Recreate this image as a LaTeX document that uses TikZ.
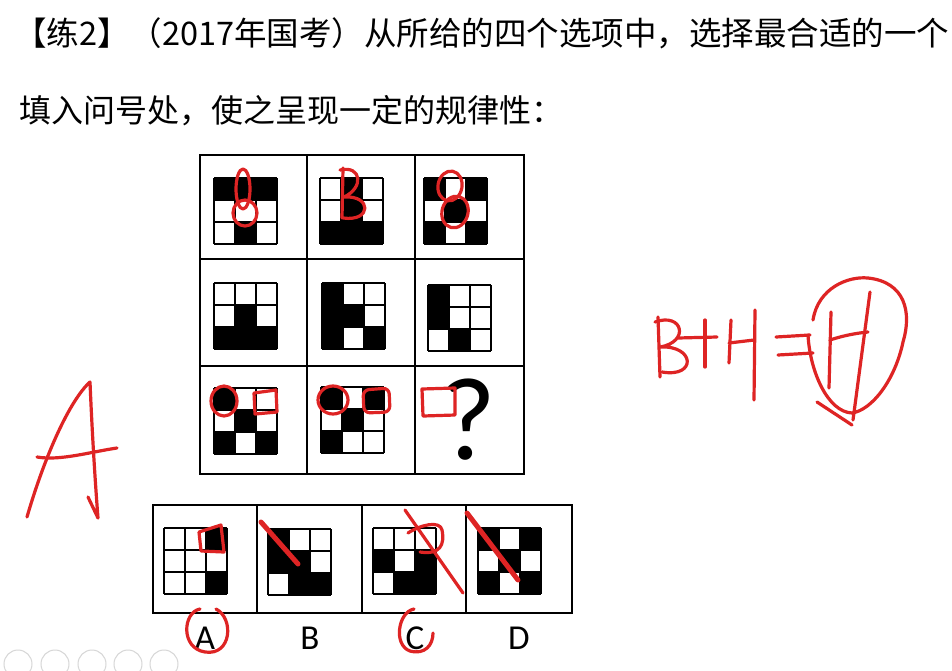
\documentclass[tikz,border=0pt]{standalone}
\usepackage{fontspec}
\setmainfont{Carlito}
\newfontfamily\cjk{Noto Sans CJK SC}
\definecolor{penred}{RGB}{222,36,36}
\definecolor{uigray}{RGB}{215,215,215}
\tikzset{
  frame/.style={draw=black, line width=2.2pt},
  pen/.style={draw=penred, line width=3.2pt, line cap=round, line join=round},
  thickpen/.style={draw=penred, line width=5pt, line cap=round},
  uibtn/.style={draw=uigray, line width=1pt, circle, minimum size=28pt, inner sep=0pt},
  lbl/.style={font=\fontsize{35}{35}\selectfont, inner sep=0pt}
}
\newcommand\mygrid[3]{%
  \begin{scope}[shift={(#1,#2)}]
    \foreach \v [count=\i from 0] in {#3} {
      \pgfmathtruncatemacro\rr{div(\i,3)}
      \pgfmathtruncatemacro\cc{mod(\i,3)}
      \ifnum\v=1 \fill (\cc*21,\rr*22) rectangle ++(21,22);\fi
    }
    \foreach \k in {0,1,2,3} {
      \draw[line width=1.7pt] (\k*21,0) -- (\k*21,66);
      \draw[line width=1.7pt] (0,\k*22) -- (63,\k*22);
    }
  \end{scope}}
\begin{document}
\begin{tikzpicture}[x=1pt,y=-1pt]
\useasboundingbox (0,0) rectangle (952,670);
\fill[white] (0,0) rectangle (952,670);

% title text
\node[anchor=west, inner sep=0pt, font=\cjk\fontsize{32.5}{32}\selectfont] (t1) at (14,33)
  {【练2】（2017年国考）从所给的四个选项中，选择最合适的一个};
\node[anchor=west, inner sep=0pt, font=\cjk\fontsize{32}{32}\selectfont] (t2) at (19,111)
  {填入问号处，使之呈现一定的规律性：};

% main 3x3 frame
\draw[frame] (200,155) rectangle (524,474);
\draw[frame] (307,155) -- (307,474);
\draw[frame] (415,155) -- (415,474);
\draw[frame] (200,259) -- (524,259);
\draw[frame] (200,366) -- (524,366);

\mygrid{214}{178}{1,1,1,0,0,0,0,1,0}
\mygrid{320}{178}{0,1,0,0,1,0,1,1,1}
\mygrid{424}{178}{1,0,1,0,1,0,1,0,1}
\mygrid{214}{283}{0,0,0,0,1,0,1,1,1}
\mygrid{322}{283}{1,0,0,1,1,0,1,0,1}
\mygrid{428}{285}{1,0,0,1,0,0,0,1,0}
\mygrid{214}{388}{1,0,0,0,1,0,1,0,1}
\mygrid{321}{387}{1,0,1,0,1,0,1,0,0}
\node[inner sep=0pt, font=\fontsize{118}{118}\selectfont] (q) at (469,420) {?};

% options frame
\draw[frame] (153,505) rectangle (572,613);
\draw[frame] (257,505) -- (257,613);
\draw[frame] (362,505) -- (362,613);
\draw[frame] (466,505) -- (466,613);
\mygrid{164}{528}{0,0,1,0,0,0,0,0,1}
\mygrid{268}{529}{1,0,0,1,1,0,0,1,1}
\mygrid{373}{528}{0,0,0,1,0,1,0,1,1}
\mygrid{478}{528}{1,0,1,0,1,0,1,0,1}

\node[lbl] (la) at (205,638) {A};
\node[lbl] (lb) at (310,638) {B};
\node[lbl] (lc) at (415,638) {C};
\node[lbl] (ld) at (519,638) {D};

% ---- red annotations ----
% row 1
\draw[pen] (243,189) ellipse (7 and 20);
\draw[pen] (245,213) ellipse (12 and 13);
\draw[pen] (343,168) -- (342,218);
\draw[pen] (340,170) .. controls (362,165) and (364,188) .. (344,197)
  .. controls (372,195) and (372,222) .. (343,218);
\draw[pen, rotate around={-10:(450,186)}] (450,186) ellipse (12 and 15);
\draw[pen, rotate around={-15:(455,212)}] (455,212) ellipse (13 and 16);
% row 3
\draw[pen] (224,401) ellipse (13 and 15);
\draw[pen] (254,393) -- (276,390) -- (277,412) -- (255,414) -- (254,393);
\draw[pen] (333,400) ellipse (15 and 14);
\draw[pen, rounded corners=6pt] (363,390) -- (389,388) -- (390,412) -- (364,413) -- cycle;
\draw[pen] (422,389) -- (455,388) -- (455,415) -- (423,416) -- cycle;
% options
\draw[pen] (199,532) -- (221,525) -- (224,552) -- (201,551) -- (199,532);
\draw[thickpen] (261,522) -- (298,564);
\draw[pen] (405,510) -- (463,593);
\draw[pen] (408,533) .. controls (420,525) and (440,520) .. (442,530)
  .. controls (445,545) and (440,555) .. (420,552);
\draw[thickpen] (467,513) -- (518,580);
\draw[pen] (200,609) .. controls (183,612) and (180,648) .. (205,652)
  .. controls (232,656) and (234,618) .. (216,609);
\draw[pen] (414,609) .. controls (398,612) and (393,645) .. (410,651)
  .. controls (425,655) and (433,645) .. (433,633);
% big A
\draw[pen] (27,517) .. controls (45,455) and (70,400) .. (90,382)
  .. controls (92,430) and (95,480) .. (98,518) -- (88,497);
\draw[pen] (37,457) .. controls (60,461) and (90,452) .. (117,448);
% B+H=H
\draw[pen] (658,317) -- (660,377);
\draw[pen] (655,322) .. controls (683,312) and (690,342) .. (660,347)
  .. controls (695,345) and (697,378) .. (662,372);
\draw[pen] (678,338) -- (717,337);
\draw[pen] (705,320) -- (705,367);
\draw[pen] (731,320) -- (729,363);
\draw[pen] (729,343) -- (754,340);
\draw[pen] (755,310) -- (754,400);
\draw[pen] (776,337) -- (810,335);
\draw[pen] (778,355) -- (813,353);
\draw[pen] (831,312) -- (829,388);
\draw[pen] (830,340) .. controls (845,335) and (858,333) .. (868,332);
\draw[pen] (870,292) -- (853,420);
\draw[pen] (813,320) .. controls (818,288) and (848,276) .. (868,278)
  .. controls (905,282) and (912,312) .. (903,342)
  .. controls (895,380) and (872,410) .. (852,413)
  .. controls (828,412) and (810,372) .. (808,335);
\draw[pen] (817,402) -- (852,425);

% UI buttons (faint)
\node[uibtn] (u1) at (18,664) {};
\node[uibtn] (u2) at (55,664) {};
\node[uibtn] (u3) at (92,664) {};
\node[uibtn] (u4) at (128,664) {};
\node[uibtn] (u5) at (164,664) {};
\end{tikzpicture}
\end{document}
